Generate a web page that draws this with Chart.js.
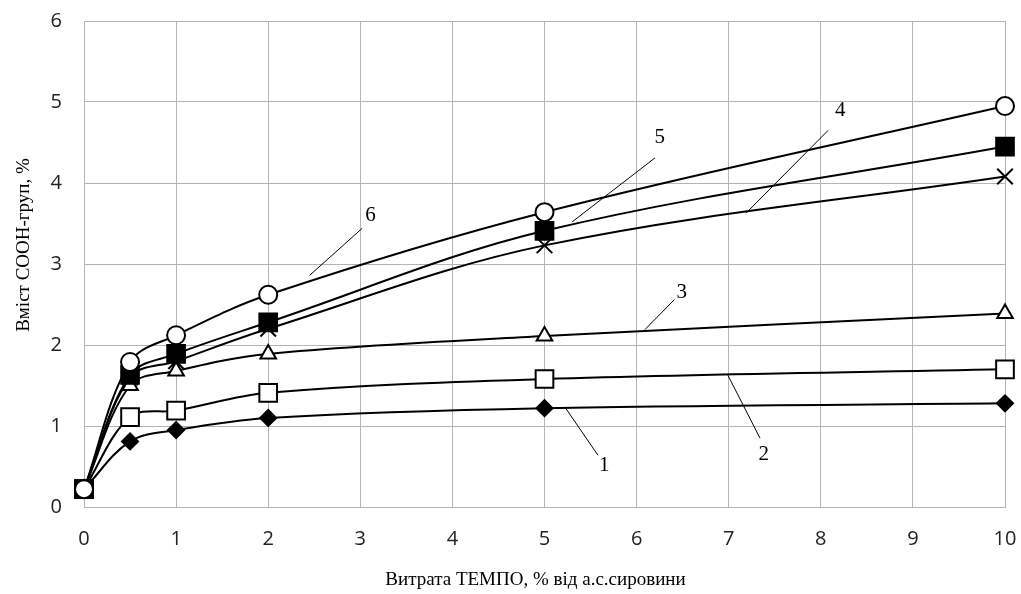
<!doctype html>
<html>

<head>
    <title>COOH</title>
    <script src="https://cdn.jsdelivr.net/npm/chart.js"></script>
    <style>
        body { margin: 0; background: #fff; }
    </style>
</head>

<body>
    <canvas id="grafik" width="1021" height="594"></canvas>

    <script>
        // витрата ТЕМПО, % від а.с.сировини
        var vytrata = [0, 0.5, 1, 2, 5, 10];
        var kryva1 = [0.22, 0.81, 0.95, 1.10, 1.22, 1.28];
        var kryva2 = [0.22, 1.11, 1.19, 1.41, 1.58, 1.70];
        var kryva3 = [0.22, 1.50, 1.68, 1.89, 2.11, 2.39];
        var kryva4 = [0.22, 1.60, 1.80, 2.20, 3.23, 4.08];
        var kryva5 = [0.22, 1.63, 1.89, 2.28, 3.41, 4.45];
        var kryva6 = [0.22, 1.79, 2.12, 2.62, 3.64, 4.95];

        var nazvaX = 'Витрата ТЕМПО, % від а.с.сировини';
        var nazvaY = 'Вміст СООН-груп, %';

        // номери кривих: текст, точка на кривій, місце підпису (в одиницях осей)
        var pidpysy = [
            { text: '1', from: [5.23, 1.22], to: [5.58, 0.64], at: [5.65, 0.51] },
            { text: '2', from: [6.99, 1.63], to: [7.34, 0.85], at: [7.38, 0.65] },
            { text: '3', from: [6.09, 2.19], to: [6.41, 2.56], at: [6.49, 2.65] },
            { text: '4', from: [7.19, 3.63], to: [8.08, 4.65], at: [8.21, 4.90] },
            { text: '5', from: [5.30, 3.52], to: [6.20, 4.31], at: [6.25, 4.56] },
            { text: '6', from: [2.45, 2.86], to: [3.02, 3.44], at: [3.11, 3.60] }
        ];

        function tochky(ys) {
            return vytrata.map(function (x, i) { return { x: x, y: ys[i] }; });
        }

        function kryva(ys, style, radius, fill, order) {
            return {
                data: tochky(ys),
                borderColor: '#000',
                borderWidth: 2,
                tension: 0.35,
                clip: false,
                pointStyle: style,
                pointRadius: radius,
                pointBackgroundColor: fill,
                pointBorderColor: '#000',
                pointBorderWidth: 2,
                order: order
            };
        }

        function bezVidstupiv(scale) {
            scale.paddingLeft = 0;
            scale.paddingRight = 0;
            scale.paddingTop = 0;
            scale.paddingBottom = 0;
        }

        var pidpysyPlugin = {
            id: 'pidpysy',
            afterDatasetsDraw: function (chart) {
                var ctx = chart.ctx;
                var sx = chart.scales.x, sy = chart.scales.y;
                var area = chart.chartArea;
                ctx.save();
                ctx.strokeStyle = '#000';
                ctx.lineWidth = 1;
                ctx.fillStyle = '#000';
                ctx.font = '21px "Liberation Serif"';
                ctx.textAlign = 'center';
                ctx.textBaseline = 'middle';
                pidpysy.forEach(function (p) {
                    ctx.beginPath();
                    ctx.moveTo(sx.getPixelForValue(p.from[0]), sy.getPixelForValue(p.from[1]));
                    ctx.lineTo(sx.getPixelForValue(p.to[0]), sy.getPixelForValue(p.to[1]));
                    ctx.stroke();
                    ctx.fillText(p.text, sx.getPixelForValue(p.at[0]), sy.getPixelForValue(p.at[1]));
                });

                // назви осей
                ctx.font = '19px "Liberation Serif"';
                ctx.fillText(nazvaX, (area.left + area.right) / 2 - 9, area.bottom + 73);
                ctx.translate(24, (area.top + area.bottom) / 2 - 19);
                ctx.rotate(-Math.PI / 2);
                ctx.fillText(nazvaY, 0, 0);
                ctx.restore();
            }
        };

        var grafik = new Chart(document.getElementById('grafik').getContext('2d'), {
            type: 'line',
            data: {
                datasets: [
                    kryva(kryva1, 'rectRot', 8, '#000', 5),
                    kryva(kryva2, 'rect', 12.5, '#fff', 4),
                    kryva(kryva3, 'triangle', 9, '#fff', 3),
                    kryva(kryva4, 'crossRot', 11, '#fff', 2),
                    kryva(kryva5, 'rect', 12.5, '#000', 1),
                    kryva(kryva6, 'circle', 9, '#fff', 0)
                ]
            },
            options: {
                responsive: false,
                animation: false,
                layout: {
                    autoPadding: false,
                    padding: { left: 0, right: 16, top: 21, bottom: 0 }
                },
                plugins: {
                    legend: { display: false },
                    tooltip: { enabled: false }
                },
                scales: {
                    x: {
                        type: 'linear',
                        min: 0,
                        max: 10,
                        afterFit: function (scale) { scale.height = 87; bezVidstupiv(scale); },
                        grid: { color: '#b4b4b4', lineWidth: 1, drawTicks: false },
                        border: { color: '#b4b4b4' },
                        ticks: {
                            stepSize: 1,
                            padding: 20,
                            color: '#222',
                            font: { family: 'Open Sans', size: 20 }
                        }
                    },
                    y: {
                        min: 0,
                        max: 6,
                        afterFit: function (scale) { scale.width = 84; bezVidstupiv(scale); },
                        grid: { color: '#b4b4b4', lineWidth: 1, drawTicks: false },
                        border: { color: '#b4b4b4' },
                        ticks: {
                            stepSize: 1,
                            padding: 22,
                            color: '#222',
                            font: { family: 'Open Sans', size: 20 }
                        }
                    }
                }
            },
            plugins: [pidpysyPlugin]
        });
    </script>
</body>

</html>
